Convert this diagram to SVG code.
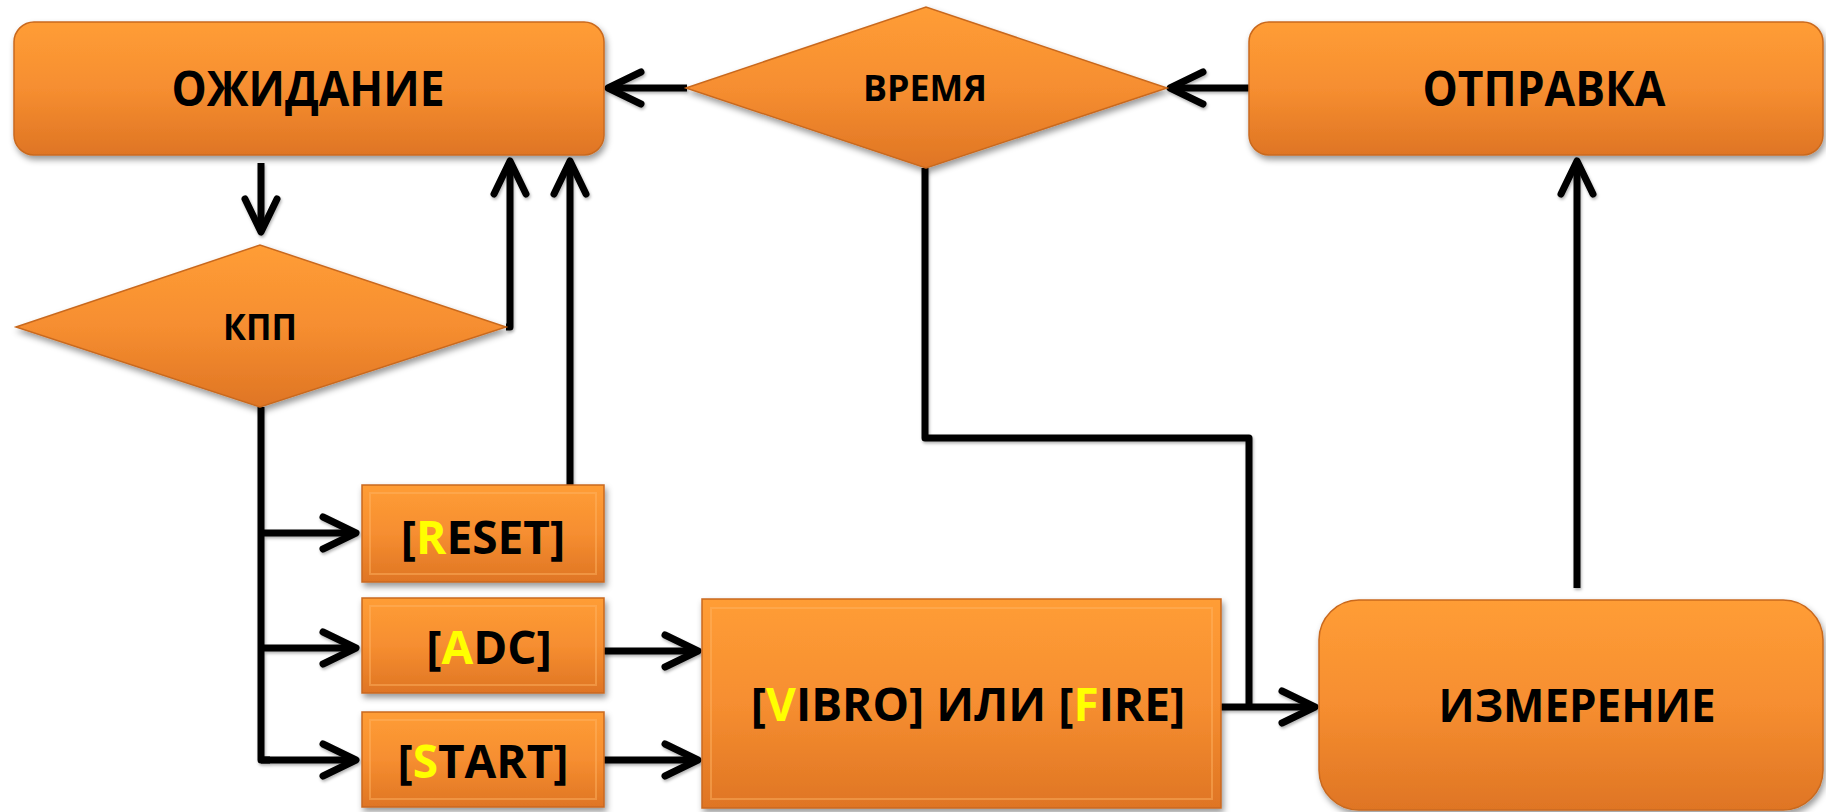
<svg xmlns="http://www.w3.org/2000/svg" width="1826" height="812" viewBox="0 0 1826 812">
<defs>
<linearGradient id="og" x1="0" y1="0" x2="0" y2="1">
<stop offset="0" stop-color="#FF9D36"/>
<stop offset="0.5" stop-color="#F68E30"/>
<stop offset="1" stop-color="#DF7524"/>
</linearGradient>
<filter id="sh" x="-10%" y="-10%" width="120%" height="130%">
<feDropShadow dx="2" dy="4" stdDeviation="3" flood-color="#000" flood-opacity="0.4"/>
</filter>
<filter id="lsh" x="-10%" y="-10%" width="120%" height="130%">
<feDropShadow dx="1" dy="2" stdDeviation="1.5" flood-color="#000" flood-opacity="0.3"/>
</filter>
<marker id="chev" markerUnits="userSpaceOnUse" markerWidth="50" markerHeight="50" viewBox="-40 -25 50 50" refX="0" refY="0" orient="auto">
<path d="M-33,-16 L0,0 L-33,16" fill="none" stroke="#000" stroke-width="7" stroke-linecap="round" stroke-linejoin="round"/>
</marker>
</defs>
<style>
.box{fill:url(#og);stroke:#C9691F;stroke-width:1.5;filter:url(#sh)}
.bev{fill:none;stroke:#FFB566;stroke-width:2;stroke-opacity:0.45}
.lbl{font-family:"Open Sans","Liberation Sans",sans-serif;font-weight:bold;fill:#000;text-anchor:middle}
.y{fill:#FFFF00}
.ln{fill:none;stroke:#000;stroke-width:7;stroke-linecap:butt;stroke-linejoin:round}
.ar{marker-end:url(#chev)}
</style>
<rect width="1826" height="812" fill="#FFFFFF"/>

<g id="connectors" filter="url(#lsh)">
<path class="ln ar" d="M1249,88 L1170,88"/>
<path class="ln ar" d="M687,88 L608,88"/>
<path class="ln ar" d="M261,163 L261,232"/>
<path class="ln ar" d="M506,327 L510,327 L510,161"/>
<path class="ln ar" d="M570,485 L570,161"/>
<path class="ln" d="M261,407 L261,760 L270,760"/>
<path class="ln ar" d="M261,533 L356,533"/>
<path class="ln ar" d="M261,648 L356,648"/>
<path class="ln ar" d="M261,760 L356,760"/>
<path class="ln ar" d="M604,651 L698,651"/>
<path class="ln ar" d="M604,760 L698,760"/>
<path class="ln ar" d="M1221,707 L1315,707"/>
<path class="ln" d="M925,168 L925,438 L1249,438 L1249,707"/>
<path class="ln ar" d="M1577,588 L1577,161"/>
</g>

<g id="node-ozhidanie">
<rect class="box" x="14" y="22" width="590" height="133" rx="20"/>
<text class="lbl" x="308" y="106" font-size="48" textLength="273" lengthAdjust="spacingAndGlyphs">ОЖИДАНИЕ</text>
</g>

<g id="node-vremya">
<polygon class="box" points="686,88 926,7 1167,88 926,168"/>
<text class="lbl" x="925" y="101" font-size="35" textLength="124" lengthAdjust="spacingAndGlyphs">ВРЕМЯ</text>
</g>

<g id="node-otpravka">
<rect class="box" x="1249" y="22" width="574" height="133" rx="20"/>
<text class="lbl" x="1544" y="106" font-size="48" textLength="243" lengthAdjust="spacingAndGlyphs">ОТПРАВКА</text>
</g>

<g id="node-kpp">
<polygon class="box" points="16,327 260,245 506,327 260,407"/>
<text class="lbl" x="260" y="340" font-size="35" textLength="74" lengthAdjust="spacingAndGlyphs">КПП</text>
</g>

<g id="node-reset">
<rect class="box" x="362" y="485" width="242" height="97"/>
<rect class="bev" x="370" y="493" width="226" height="81"/>
<text class="lbl" x="483" y="554" font-size="46">[<tspan class="y">R</tspan>ESET]</text>
</g>

<g id="node-adc">
<rect class="box" x="362" y="598" width="242" height="95"/>
<rect class="bev" x="370" y="606" width="226" height="79"/>
<text class="lbl" x="489" y="664" font-size="46">[<tspan class="y">A</tspan>DC]</text>
</g>

<g id="node-start">
<rect class="box" x="362" y="712" width="242" height="95"/>
<rect class="bev" x="370" y="720" width="226" height="79"/>
<text class="lbl" x="483" y="778" font-size="46">[<tspan class="y">S</tspan>TART]</text>
</g>

<g id="node-vibro-fire">
<rect class="box" x="702" y="599" width="519" height="209"/>
<rect class="bev" x="711" y="608" width="501" height="191"/>
<text class="lbl" x="968" y="721" font-size="46">[<tspan class="y">V</tspan>IBRO] ИЛИ [<tspan class="y">F</tspan>IRE]</text>
</g>

<g id="node-izmerenie">
<rect class="box" x="1319" y="600" width="504" height="210" rx="40"/>
<text class="lbl" x="1577" y="722" font-size="46" textLength="277" lengthAdjust="spacingAndGlyphs">ИЗМЕРЕНИЕ</text>
</g>
</svg>
